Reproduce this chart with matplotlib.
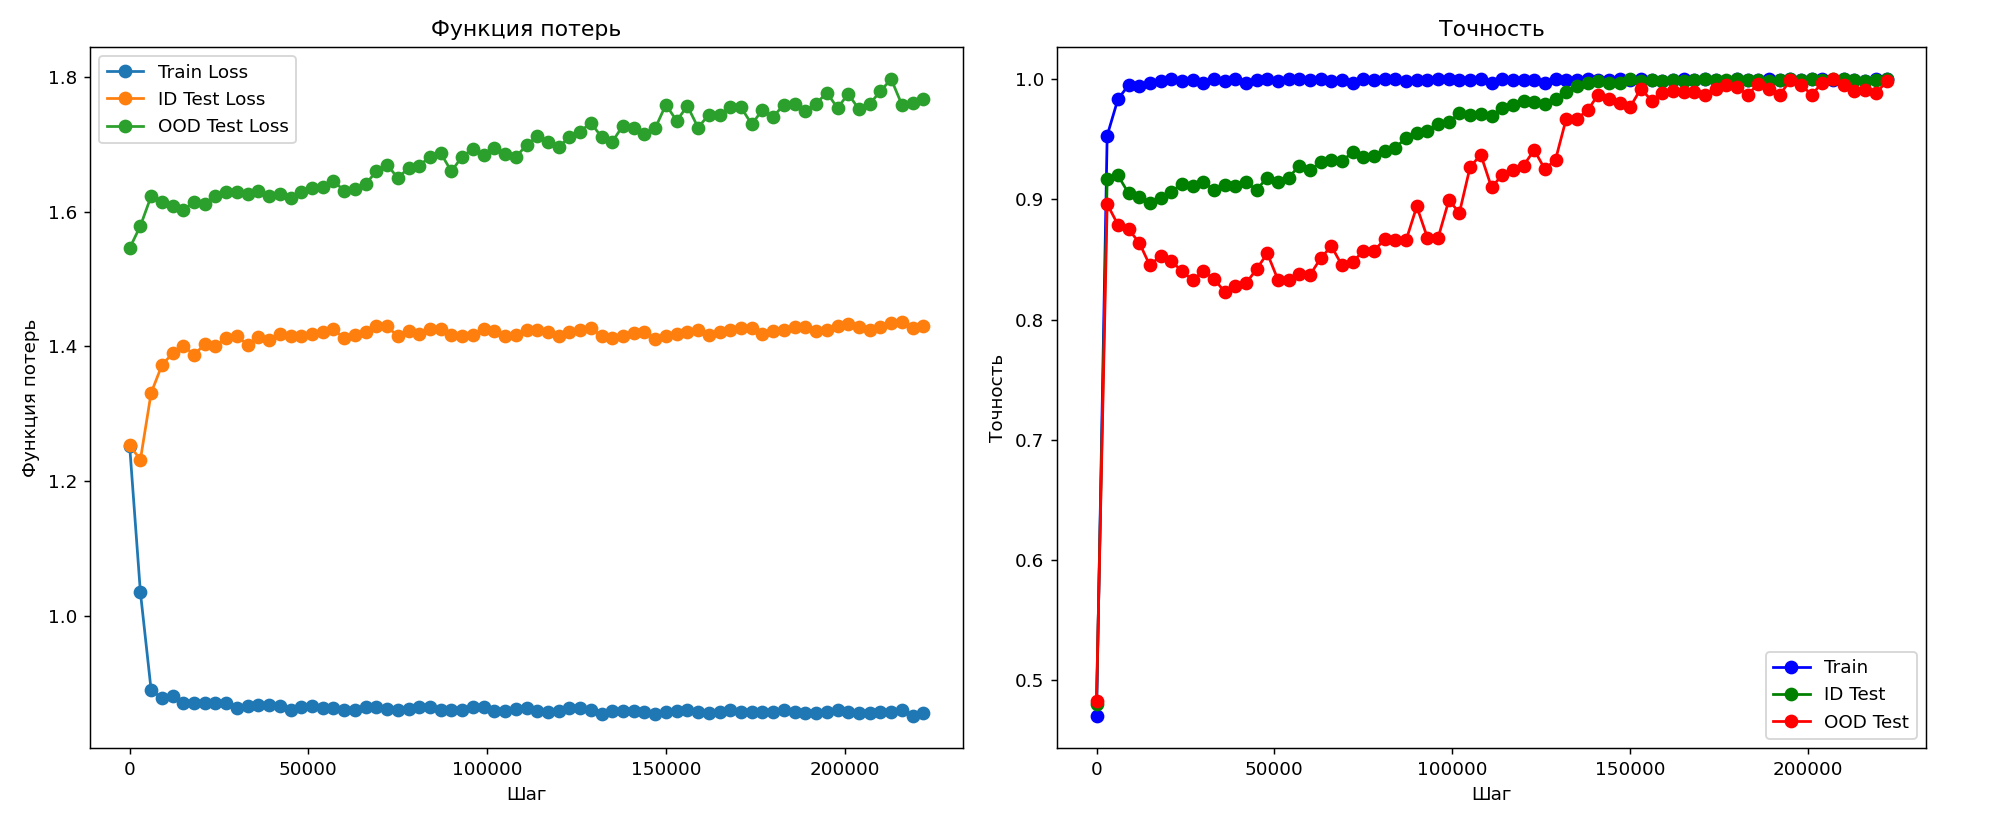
import matplotlib
matplotlib.use("Agg")
import matplotlib.pyplot as plt

# Training steps (evaluated every 3000 steps)
steps = list(range(0, 222001, 3000))

train_loss = [
    1.252, 1.035, 0.890, 0.878, 0.881, 0.871, 0.871, 0.871, 0.871, 0.871,
    0.863, 0.866, 0.868, 0.868, 0.866, 0.861, 0.865, 0.866, 0.863, 0.863,
    0.861, 0.861, 0.865, 0.865, 0.862, 0.860, 0.862, 0.865, 0.865, 0.860,
    0.860, 0.860, 0.865, 0.865, 0.859, 0.859, 0.862, 0.863, 0.859, 0.857,
    0.859, 0.863, 0.863, 0.860, 0.855, 0.859, 0.859, 0.859, 0.858, 0.855,
    0.858, 0.859, 0.860, 0.858, 0.856, 0.858, 0.860, 0.858, 0.858, 0.858,
    0.858, 0.860, 0.858, 0.856, 0.856, 0.858, 0.860, 0.858, 0.856, 0.856,
    0.858, 0.858, 0.861, 0.851, 0.856,
]
id_loss = [
    1.253, 1.232, 1.331, 1.372, 1.390, 1.401, 1.388, 1.403, 1.400, 1.413,
    1.416, 1.402, 1.414, 1.410, 1.419, 1.415, 1.415, 1.419, 1.421, 1.426,
    1.412, 1.417, 1.422, 1.430, 1.430, 1.415, 1.423, 1.418, 1.426, 1.426,
    1.417, 1.415, 1.417, 1.426, 1.423, 1.415, 1.417, 1.424, 1.424, 1.422,
    1.415, 1.422, 1.424, 1.428, 1.415, 1.412, 1.416, 1.420, 1.422, 1.411,
    1.415, 1.419, 1.422, 1.424, 1.417, 1.422, 1.424, 1.427, 1.427, 1.418,
    1.423, 1.424, 1.429, 1.429, 1.423, 1.424, 1.430, 1.434, 1.429, 1.424,
    1.429, 1.435, 1.437, 1.428, 1.430,
]
ood_loss = [
    1.546, 1.579, 1.623, 1.614, 1.608, 1.603, 1.614, 1.612, 1.623, 1.629,
    1.630, 1.627, 1.631, 1.623, 1.627, 1.621, 1.629, 1.635, 1.637, 1.646,
    1.631, 1.634, 1.641, 1.660, 1.670, 1.650, 1.665, 1.668, 1.682, 1.687,
    1.660, 1.682, 1.693, 1.684, 1.695, 1.685, 1.681, 1.699, 1.712, 1.704,
    1.696, 1.711, 1.719, 1.732, 1.711, 1.704, 1.728, 1.725, 1.715, 1.724,
    1.759, 1.735, 1.757, 1.725, 1.744, 1.744, 1.756, 1.755, 1.730, 1.751,
    1.741, 1.759, 1.760, 1.749, 1.760, 1.777, 1.754, 1.775, 1.752, 1.760,
    1.779, 1.797, 1.759, 1.762, 1.767,
]

train_acc = [
    0.470, 0.953, 0.983, 0.995, 0.994, 0.997, 0.998, 1.000, 0.998, 0.999,
    0.997, 1.000, 0.998, 1.000, 0.997, 0.999, 1.000, 0.998, 1.000, 1.000,
    0.999, 1.000, 0.998, 0.999, 0.997, 1.000, 0.999, 1.000, 1.000, 0.998,
    0.999, 0.999, 1.000, 1.000, 0.999, 0.999, 1.000, 0.997, 1.000, 0.999,
    0.999, 0.999, 0.997, 1.000, 0.999, 0.999, 1.000, 0.999, 0.999, 1.000,
    0.999, 1.000, 0.999, 0.998, 0.999, 1.000, 0.999, 1.000, 0.999, 0.998,
    1.000, 0.999, 0.999, 1.000, 0.999, 1.000, 0.999, 1.000, 1.000, 0.999,
    1.000, 0.999, 0.998, 1.000, 1.000,
]
id_acc = [
    0.480, 0.917, 0.920, 0.905, 0.902, 0.897, 0.901, 0.906, 0.913, 0.911,
    0.914, 0.908, 0.912, 0.911, 0.914, 0.908, 0.918, 0.914, 0.918, 0.928,
    0.924, 0.931, 0.933, 0.932, 0.939, 0.935, 0.936, 0.940, 0.943, 0.951,
    0.955, 0.957, 0.963, 0.964, 0.972, 0.970, 0.971, 0.969, 0.976, 0.978,
    0.982, 0.981, 0.979, 0.983, 0.989, 0.994, 0.997, 0.998, 0.997, 0.997,
    1.000, 0.998, 0.999, 0.998, 0.999, 0.998, 0.999, 1.000, 0.999, 0.999,
    1.000, 0.999, 0.999, 0.998, 0.999, 1.000, 0.999, 1.000, 0.999, 1.000,
    1.000, 0.999, 0.998, 0.999, 1.000,
]
ood_acc = [
    0.483, 0.896, 0.879, 0.875, 0.864, 0.845, 0.853, 0.849, 0.840, 0.833,
    0.840, 0.834, 0.823, 0.828, 0.830, 0.842, 0.855, 0.833, 0.833, 0.838,
    0.837, 0.851, 0.861, 0.845, 0.848, 0.857, 0.857, 0.867, 0.866, 0.866,
    0.894, 0.868, 0.868, 0.899, 0.889, 0.927, 0.937, 0.910, 0.920, 0.924,
    0.928, 0.941, 0.925, 0.933, 0.967, 0.967, 0.974, 0.987, 0.983, 0.980,
    0.977, 0.992, 0.982, 0.988, 0.990, 0.989, 0.989, 0.987, 0.992, 0.995,
    0.993, 0.987, 0.996, 0.992, 0.987, 0.999, 0.995, 0.987, 0.997, 1.000,
    0.995, 0.990, 0.991, 0.988, 0.998,
]

fig, (ax1, ax2) = plt.subplots(1, 2, figsize=(2000 / 132, 835 / 132), dpi=132)
ax1.set_position([0.045, 0.104, 0.4365, 0.8395])
ax2.set_position([0.5285, 0.104, 0.4345, 0.8395])

# Loss curves
ax1.plot(steps, train_loss, marker='o', ms=6.5, label='Train Loss')
ax1.plot(steps, id_loss, marker='o', ms=6.5, label='ID Test Loss')
ax1.plot(steps, ood_loss, marker='o', ms=6.5, label='OOD Test Loss')
ax1.set_title('Функция потерь')
ax1.set_xlabel('Шаг')
ax1.set_ylabel('Функция потерь')
ax1.legend(loc='upper left')

# Accuracy curves
ax2.plot(steps, train_acc, marker='o', ms=6.5, color='blue', label='Train')
ax2.plot(steps, id_acc, marker='o', ms=6.5, color='green', label='ID Test')
ax2.plot(steps, ood_acc, marker='o', ms=6.5, color='red', label='OOD Test')
ax2.set_title('Точность')
ax2.set_xlabel('Шаг')
ax2.set_ylabel('Точность')
ax2.legend(loc='lower right')

plt.savefig('out.png', dpi=132)
